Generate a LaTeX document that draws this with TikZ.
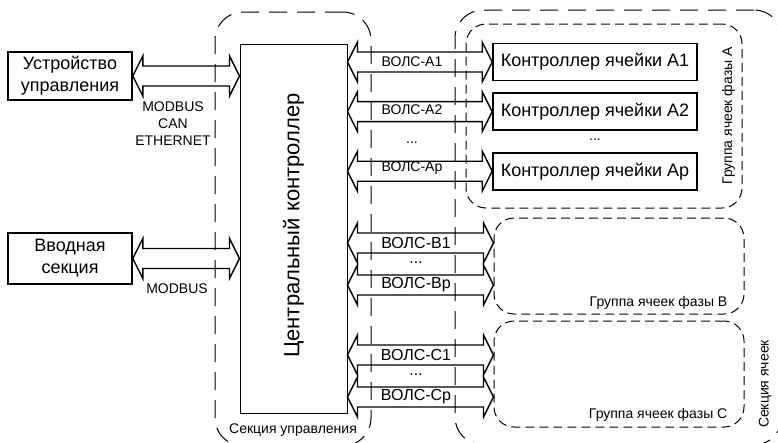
\documentclass[tikz,border=0pt]{standalone}
\usepackage{fontspec}
\setmainfont{Liberation Sans}
\usetikzlibrary{positioning,calc}

% wide two-way bus between two points at the same height
\newcommand{\busarrow}[2]{%
  \draw[bus] (#1) -- ++(10,-20) -- ++(0,10) -- ($(#2)+(-10,-10)$) -- ++(0,-10)
    -- (#2) -- ++(-10,20) -- ++(0,-10) -- ($(#1)+(10,10)$) -- ++(0,10) -- cycle;}

\begin{document}
\begin{tikzpicture}[
    x=1pt, y=-1pt,
    node distance=11pt,
    unit/.style={rectangle, draw, line width=1.6pt, minimum width=124pt, align=center, font=\fontsize{18}{22}\selectfont},
    cell/.style={rectangle, draw, line width=1.6pt, minimum width=204pt, minimum height=37pt, inner sep=0pt, font=\fontsize{18}{21}\selectfont},
    zone/.style={rectangle, draw, rounded corners=28pt, line width=1pt, dash pattern=on 18pt off 10pt},
    group/.style={rectangle, draw, rounded corners=20pt, line width=1pt, dash pattern=on 9pt off 5pt},
    bus/.style={line width=1.4pt, line join=miter},
    small/.style={font=\fontsize{14}{17}\selectfont, align=center, inner sep=0pt},
    fiber/.style={font=\fontsize{16}{18}\selectfont, inner sep=0pt}
  ]
  \clip (0,0) rectangle (778,442);

  % zones
  \node[zone, minimum width=156pt, minimum height=434pt] (secUpr) at (293,229) {};
  \node[zone, minimum width=327pt, minimum height=435pt] (secCell) at (618.5,227.5) {};
  \node[group, minimum width=276pt, minimum height=184pt] (gA) at (604,116) {};
  \node[group, minimum width=250pt, minimum height=96pt] (gB) at (619,266) {};
  \node[group, minimum width=250pt, minimum height=106pt] (gC) at (619,374) {};

  % blocks
  \node[unit, minimum height=48pt] (dev) at (70,76) {Устройство\\управления};
  \node[unit, minimum height=51pt] (inp) at (70,258.5) {Вводная\\секция};
  \node[rectangle, draw, line width=1pt, minimum width=107pt, minimum height=369pt] (ctrl) at (293.5,228.5) {};
  \node[rotate=90, font=\fontsize{22}{24}\selectfont] at ($(ctrl.center)+(0,-3)$) {Центральный контроллер};

  \node[cell] (cA1) at (595,62) {Контроллер ячейки А1};
  \node[cell, below=of cA1] (cA2) {Контроллер ячейки А2};
  \node[cell, below=21pt of cA2] (cAp) {Контроллер ячейки Ар};
  \node[small] (dotsCell) at (595,140) {...};

  % external links
  \busarrow{dev.east}{dev.east -| ctrl.west}
  \busarrow{inp.east}{inp.east -| ctrl.west}
  \node[small] (protoDev) at (173,124) {MODBUS\\CAN\\ETHERNET};
  \node[small] (protoInp) at (177,289) {MODBUS};

  % fibre links, phase A
  \busarrow{ctrl.east |- cA1.west}{cA1.west}
  \busarrow{ctrl.east |- cA2.west}{cA2.west}
  \busarrow{ctrl.east |- cAp.west}{cAp.west}
  \node[small] (lA1) at (412,62) {ВОЛС-А1};
  \node[small] (lA2) at (412,110) {ВОЛС-А2};
  \node[small] (dotsA) at (412,143) {...};
  \node[small] (lAp) at (412,168) {ВОЛС-Ар};

  % fibre links, phases B and C
  \node[fiber] (lB1) at (416,243) {ВОЛС-В1};
  \node[fiber] (dotsB) at (416,263) {...};
  \node[fiber] (lBp) at (416,285) {ВОЛС-Вр};
  \node[fiber] (lC1) at (416,355) {ВОЛС-С1};
  \node[fiber] (dotsC) at (416,375) {...};
  \node[fiber] (lCp) at (416,397) {ВОЛС-Ср};
  \busarrow{ctrl.east |- lB1}{gB.west |- lB1}
  \busarrow{ctrl.east |- lBp}{gB.west |- lBp}
  \busarrow{ctrl.east |- lC1}{gC.west |- lC1}
  \busarrow{ctrl.east |- lCp}{gC.west |- lCp}

  % zone captions
  \node[small, rotate=90] (capA) at ($(gA.east)+(-14,0)$) {Группа ячеек фазы А};
  \node[small, anchor=east] (capB) at ($(gB.south east)+(-17,-12)$) {Группа ячеек фазы В};
  \node[small, anchor=east] (capC) at ($(gC.south east)+(-17,-13)$) {Группа ячеек фазы С};
  \node[small] (capUpr) at ($(secUpr.south)+(0,-16)$) {Секция управления};
  \node[small, rotate=90] (capCell) at (765,384) {Секция ячеек};
\end{tikzpicture}
\end{document}
